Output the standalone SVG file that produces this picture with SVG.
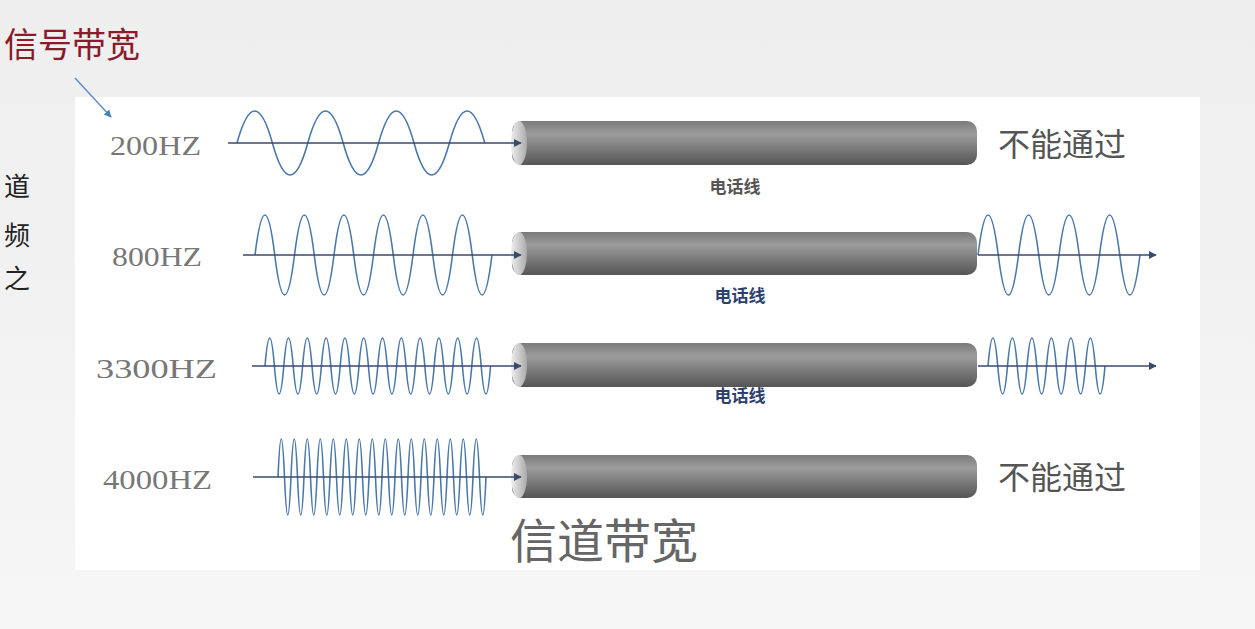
<svg xmlns="http://www.w3.org/2000/svg" width="1255" height="629" viewBox="0 0 1255 629">
<defs>
<linearGradient id="cyl" x1="0" y1="0" x2="0" y2="1">
<stop offset="0" stop-color="#7a7a7a"/><stop offset="0.3" stop-color="#9c9c9c"/><stop offset="0.75" stop-color="#6e6e6e"/><stop offset="1" stop-color="#555"/>
</linearGradient>
<linearGradient id="end" x1="0" y1="0" x2="1" y2="0">
<stop offset="0" stop-color="#eee"/><stop offset="1" stop-color="#aaa"/>
</linearGradient>
<linearGradient id="bg" x1="0" y1="0" x2="0" y2="1">
<stop offset="0" stop-color="#eeeeee"/><stop offset="1" stop-color="#f6f6f6"/>
</linearGradient>
<marker id="ah" viewBox="0 0 10 10" refX="9" refY="5" markerWidth="5" markerHeight="5" orient="auto"><path d="M0 0 L10 5 L0 10 z" fill="#3a4a6a"/></marker>
<marker id="ah2" viewBox="0 0 10 10" refX="9" refY="5" markerWidth="5" markerHeight="5" orient="auto"><path d="M0 0 L10 5 L0 10 z" fill="#4a7fc0"/></marker>
</defs>
<style>
.lbl{font-family:"Liberation Serif",serif;font-size:28px;fill:#777}
.cn{font-family:"Noto Sans CJK SC",sans-serif;fill:#555}
.wave{fill:none;stroke:#4a78a8;stroke-width:1.6}
.ax{stroke:#3a4a6a;stroke-width:1.6;marker-end:url(#ah)}
.tel{font-family:"Noto Sans CJK SC",sans-serif;font-size:17px;font-weight:bold;text-anchor:middle}
</style>
<rect width="1255" height="629" fill="url(#bg)"/>
<rect x="75" y="97" width="1125" height="473" fill="#fff"/>
<g id="side" class="cn" style="font-size:26px;fill:#222">
<text x="4" y="196">道</text><text x="4" y="245">频</text><text x="4" y="288">之</text>
</g>
<g id="signal-bw">
<text x="4" y="57" class="cn" style="font-size:34px;fill:#8b1a2a">信号带宽</text>
<line x1="75" y1="78" x2="111" y2="117" stroke="#5b8fd0" stroke-width="1.5" marker-end="url(#ah2)"/>
</g>
<g id="cables">
<g id="c1"><rect x="512" y="121" width="465" height="44" rx="10" fill="url(#cyl)"/><ellipse cx="519" cy="143" rx="8" ry="22" fill="url(#end)"/></g>
<g id="c2"><rect x="512" y="232" width="465" height="43" rx="10" fill="url(#cyl)"/><ellipse cx="519" cy="253.5" rx="8" ry="21.5" fill="url(#end)"/></g>
<g id="c3"><rect x="512" y="343" width="465" height="44" rx="10" fill="url(#cyl)"/><ellipse cx="519" cy="365" rx="8" ry="22" fill="url(#end)"/></g>
<g id="c4"><rect x="512" y="455" width="465" height="43" rx="10" fill="url(#cyl)"/><ellipse cx="519" cy="476.5" rx="8" ry="21.5" fill="url(#end)"/></g>
</g>
<g id="row1">
<text x="110" y="155" class="lbl" textLength="91" lengthAdjust="spacingAndGlyphs">200HZ</text>
<path class="wave" d="M237 143 q17.7 -64 35.4 0 t35.4 0 t35.4 0 t35.4 0 t35.4 0 t35.4 0 t35.4 0"/>
<text x="735" y="193" class="tel" fill="#555">电话线</text>
<text x="998" y="156" class="cn" style="font-size:32px">不能通过</text>
</g>
<g id="row2">
<text x="112" y="266" class="lbl" textLength="90" lengthAdjust="spacingAndGlyphs">800HZ</text>
<path class="wave" d="M255 255 q9.9 -80 19.75 0 t19.75 0 t19.75 0 t19.75 0 t19.75 0 t19.75 0 t19.75 0 t19.75 0 t19.75 0 t19.75 0 t19.75 0 t19.75 0"/>
<path class="wave" d="M978 255 q10.1 -80 20.25 0 t20.25 0 t20.25 0 t20.25 0 t20.25 0 t20.25 0 t20.25 0 t20.25 0"/>
<text x="740" y="302" class="tel" fill="#2e3f6e">电话线</text>
</g>
<g id="row3">
<text x="96" y="378" class="lbl" textLength="121" lengthAdjust="spacingAndGlyphs">3300HZ</text>
<path class="wave" d="M265 366 q4.7 -56 9.4 0 t9.4 0 t9.4 0 t9.4 0 t9.4 0 t9.4 0 t9.4 0 t9.4 0 t9.4 0 t9.4 0 t9.4 0 t9.4 0 t9.4 0 t9.4 0 t9.4 0 t9.4 0 t9.4 0 t9.4 0 t9.4 0 t9.4 0 t9.4 0 t9.4 0 t9.4 0 t9.4 0"/>
<path class="wave" d="M988 366 q4.9 -56 9.75 0 t9.75 0 t9.75 0 t9.75 0 t9.75 0 t9.75 0 t9.75 0 t9.75 0 t9.75 0 t9.75 0 t9.75 0 t9.75 0"/>
<text x="740" y="402" class="tel" fill="#2e3f6e">电话线</text>
</g>
<g id="row4">
<text x="103" y="489" class="lbl" textLength="109" lengthAdjust="spacingAndGlyphs">4000HZ</text>
<path class="wave" d="M278 477 q3.25 -76 6.5 0 t6.5 0 t6.5 0 t6.5 0 t6.5 0 t6.5 0 t6.5 0 t6.5 0 t6.5 0 t6.5 0 t6.5 0 t6.5 0 t6.5 0 t6.5 0 t6.5 0 t6.5 0 t6.5 0 t6.5 0 t6.5 0 t6.5 0 t6.5 0 t6.5 0 t6.5 0 t6.5 0 t6.5 0 t6.5 0 t6.5 0 t6.5 0 t6.5 0 t6.5 0 t6.5 0 t6.5 0"/>
<text x="998" y="489" class="cn" style="font-size:32px">不能通过</text>
</g>
<g id="connectors">
<line class="ax" x1="228" y1="143" x2="521" y2="143"/>
<line class="ax" x1="243" y1="255" x2="521" y2="255"/>
<line class="ax" x1="978" y1="255" x2="1156" y2="255"/>
<line class="ax" x1="252" y1="366" x2="521" y2="366"/>
<line class="ax" x1="978" y1="366" x2="1156" y2="366"/>
<line class="ax" x1="253" y1="477" x2="521" y2="477"/>
</g>
<text id="channel-bw" x="510" y="558" class="cn" style="font-size:47px;fill:#666">信道带宽</text>
</svg>
